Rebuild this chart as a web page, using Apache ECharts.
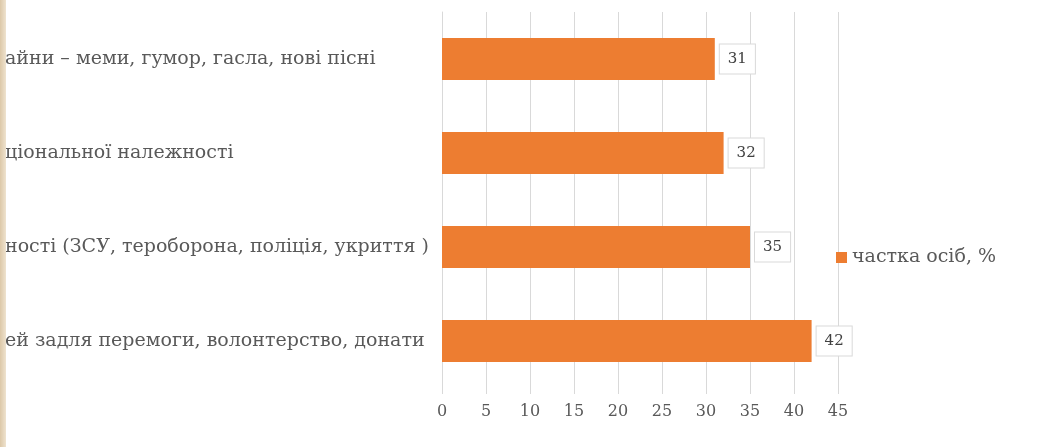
<!DOCTYPE html>
<html>
<head>
<meta charset="utf-8">
<script src="https://cdn.jsdelivr.net/npm/echarts@6/dist/echarts.min.js"></script>
<style>
html,body{margin:0;padding:0;background:#fff;}
#wrap{position:relative;width:1056px;height:447px;overflow:hidden;}
#strip{position:absolute;left:0;top:0;width:6px;height:447px;background:linear-gradient(90deg,#dcc8a8,#efe3cf);z-index:2;}
#chart{position:absolute;left:0;top:0;width:1056px;height:447px;}
</style>
</head>
<body>
<div id="wrap"><div id="strip"></div><div id="chart"></div></div>
<script>
const categories = [
  "айни – меми, гумор, гасла, нові пісні",
  "ціональної належності",
  "ності (ЗСУ, тероборона, поліція, укриття )",
  "ей задля перемоги, волонтерство, донати"
];
const values = [31, 32, 35, 42];
const seriesName = "частка осіб, %";
const xTicks = [0, 5, 10, 15, 20, 25, 30, 35, 40, 45];

const font = "'DejaVu Serif', 'Liberation Serif', serif";
const chart = echarts.init(document.getElementById('chart'));
chart.setOption({
  animation: false,
  backgroundColor: '#fff',
  grid: {left: 442, right: 218, top: 12, height: 376, containLabel: false},
  legend: {
    data: [seriesName], left: 831, top: 243, orient: 'vertical',
    icon: 'rect', itemWidth: 11, itemHeight: 11, itemGap: 6,
    textStyle: {fontFamily: font, fontSize: 19, color: '#595959'}
  },
  xAxis: {
    type: 'value', min: xTicks[0], max: xTicks[xTicks.length-1], interval: 5,
    axisLine: {show: false},
    axisTick: {show: true, length: 6, lineStyle: {color: '#d9d9d9'}},
    splitLine: {show: true, lineStyle: {color: '#d9d9d9', width: 1}},
    axisLabel: {margin: 16, color: '#595959', fontFamily: font, fontSize: 16}
  },
  yAxis: {
    type: 'category', data: categories, inverse: true,
    axisLine: {show: true, lineStyle: {color: '#d9d9d9'}},
    axisTick: {show: false},
    axisLabel: {align: 'left', margin: 437, color: '#595959', fontFamily: font, fontSize: 19}
  },
  series: [{
    name: seriesName, type: 'bar', data: values, barWidth: 42,
    itemStyle: {color: '#ED7D31'},
    label: {
      show: true, position: 'right', distance: 5,
      backgroundColor: '#fff', borderColor: '#d9d9d9', borderWidth: 1,
      padding: [7, 8], color: '#404040', fontFamily: font, fontSize: 15
    }
  }]
});
</script>
</body>
</html>
